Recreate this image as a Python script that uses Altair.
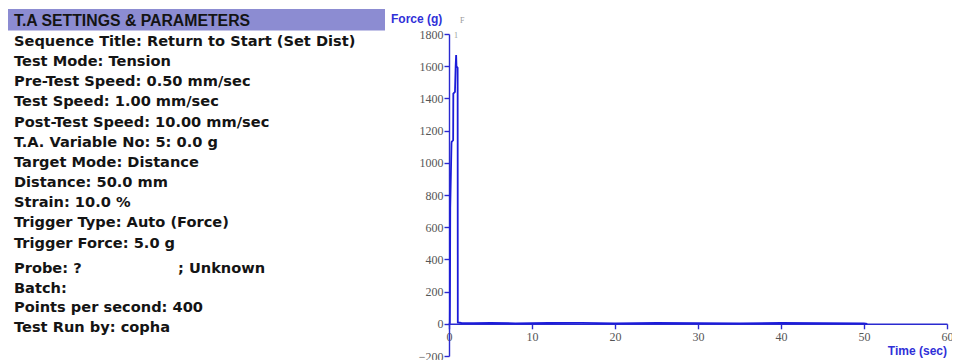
import altair as alt
import pandas as pd

# ---- data ----
time_s = [0, 0.1, 0.12, 0.15, 0.3, 0.32, 0.5, 0.52, 0.72, 0.8, 0.86, 0.9, 1.04, 1.06,
          1.5, 3, 5, 8, 12, 16, 20, 25, 30, 35, 40, 45, 50, 50.4]
force_g = [0, 5, 200, 720, 1120, 1130, 1140, 1430, 1440, 1600, 1670, 1600, 1590, 8,
           5, 4, 6, 3, 5, 6, 3, 5, 4, 3, 5, 4, 3, 0]

x_ticks = [0, 10, 20, 30, 40, 50, 60]
y_ticks = [-200, 0, 200, 400, 600, 800, 1000, 1200, 1400, 1600, 1800]

header = "T.A SETTINGS & PARAMETERS"
settings_lines = [
    "Sequence Title: Return to Start (Set Dist)",
    "Test Mode: Tension",
    "Pre-Test Speed: 0.50 mm/sec",
    "Test Speed: 1.00 mm/sec",
    "Post-Test Speed: 10.00 mm/sec",
    "T.A. Variable No: 5: 0.0 g",
    "Target Mode: Distance",
    "Distance: 50.0 mm",
    "Strain: 10.0 %",
    "Trigger Type: Auto (Force)",
    "Trigger Force: 5.0 g",
]
info_lines = [
    "Probe: ?",
    "Batch:",
    "Points per second: 400",
    "Test Run by: copha",
]
probe_suffix = "; Unknown"

annotations = [
    {"t": 0.84, "f": 1790, "label": "1"},
    {"t": 1.6, "f": 1880, "label": "F"},
]

BLUE = "#1c1cd8"
AXIS_BLUE = "#2a2ad0"
TXT = "#141414"
SANS = "Liberation Sans"
BODY = "DejaVu Sans"
SERIF = "Liberation Serif"

W = 498
H = 322
LEFT = 441

df = pd.DataFrame({"t": time_s, "f": force_g})
one = pd.DataFrame({"a": [0]})

x_scale = alt.Scale(domain=[0, 60], nice=False, zero=False)
y_scale = alt.Scale(domain=[-200, 1800], nice=False, zero=False)

x_axis = alt.Axis(values=x_ticks, offset=-H * 0.1, tickSize=5, title=None, format="d",
                  labelFont=SERIF, labelFontSize=12, labelColor="#555555",
                  domainColor=AXIS_BLUE, tickColor=AXIS_BLUE, domainWidth=1.4,
                  tickWidth=1.4, grid=False, labelPadding=3, labelFlush=False,
                  labelOverlap=False)
y_axis = alt.Axis(values=y_ticks, tickSize=5, title=None, format="d",
                  labelFont=SERIF, labelFontSize=12, labelColor="#555555",
                  domainColor=AXIS_BLUE, tickColor=AXIS_BLUE, domainWidth=1.4,
                  tickWidth=1.4, grid=False, labelPadding=1,
                  labelOverlap=False, labelFlush=False)

line = alt.Chart(df).mark_line(color=BLUE, strokeWidth=1.8, clip=False).encode(
    x=alt.X("t:Q", scale=x_scale, axis=x_axis),
    y=alt.Y("f:Q", scale=y_scale, axis=y_axis),
)

ann = alt.Chart(pd.DataFrame(annotations)).mark_text(
    font=SERIF, fontSize=8, color="#999999", baseline="middle", align="center"
).encode(x=alt.X("t:Q", scale=x_scale, axis=x_axis),
         y=alt.Y("f:Q", scale=y_scale, axis=y_axis), text="label:N")

layers = [line, ann]

# left-hand settings panel
X0 = 14 - 8 - LEFT
layers.append(alt.Chart(one).mark_rect(color="#8c8cd2").encode(
    x=alt.value(-LEFT), x2=alt.value(377 - LEFT), y=alt.value(-25), y2=alt.value(-3.5)))
layers.append(alt.Chart(one).mark_text(
    text=header, font=SANS, fontWeight="bold", fontSize=15.8, color=TXT,
    align="left", baseline="middle").encode(x=alt.value(X0), y=alt.value(-13)))

for i, s in enumerate(settings_lines):
    layers.append(alt.Chart(one).mark_text(
        text=s, font=BODY, fontWeight="bold", fontSize=14.6, color=TXT,
        align="left", baseline="middle").encode(x=alt.value(X0), y=alt.value(8 + 20.15 * i)))

for i, s in enumerate(info_lines):
    layers.append(alt.Chart(one).mark_text(
        text=s, font=BODY, fontWeight="bold", fontSize=14.6, color=TXT,
        align="left", baseline="middle").encode(x=alt.value(X0), y=alt.value(235 + 19.5 * i)))

layers.append(alt.Chart(one).mark_text(
    text=probe_suffix, font=BODY, fontWeight="bold", fontSize=14.6, color=TXT,
    align="left", baseline="middle").encode(x=alt.value(178 - 8 - LEFT), y=alt.value(235)))

# axis titles
layers.append(alt.Chart(one).mark_text(
    text="Force (g)", font=SANS, fontWeight="bold", fontSize=12, color="#3030d8",
    align="left", baseline="middle").encode(x=alt.value(391 - 8 - LEFT), y=alt.value(-15)))
layers.append(alt.Chart(one).mark_text(
    text="Time (sec)", font=SANS, fontWeight="bold", fontSize=12, color="#3030d8",
    align="right", baseline="middle").encode(x=alt.value(W), y=alt.value(317)))

chart = alt.layer(*layers).properties(
    width=W, height=H,
    padding={"left": LEFT, "top": 26, "right": 5, "bottom": 4},
    autosize=alt.AutoSizeParams(type="none"),
    background="white",
).configure_view(stroke=None)

chart.save("out.html", embed_options={"renderer": "svg", "actions": False})
